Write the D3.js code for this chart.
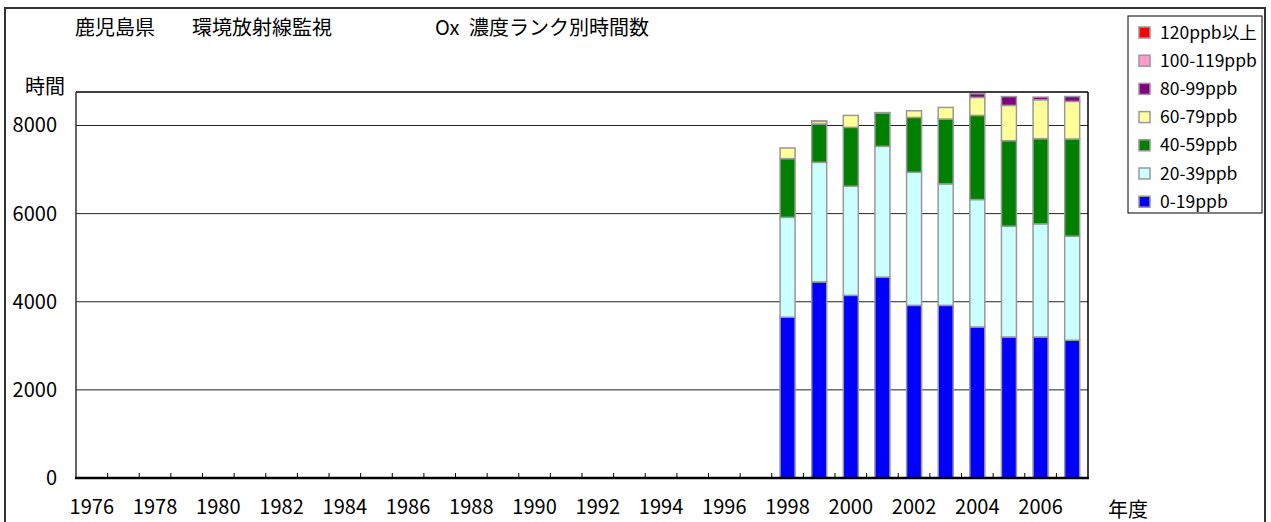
<!DOCTYPE html>
<html>
<head>
<meta charset="utf-8">
<script src="https://cdn.jsdelivr.net/npm/d3@7"></script>
<style>
  body { margin: 0; background: #fff; }
  svg { display: block; font-family: "Noto Sans CJK JP", "Noto Sans", sans-serif; }
</style>
</head>
<body>
<svg id="chart" width="1271" height="522"></svg>
<script>
// category axis (fiscal years)
const years = ["1976","1977","1978","1979","1980","1981","1982","1983","1984","1985",
    "1986","1987","1988","1989","1990","1991","1992","1993","1994","1995",
    "1996","1997","1998","1999","2000","2001","2002","2003","2004","2005","2006","2007"];
const tickYears = ["1976","1978","1980","1982","1984","1986","1988","1990","1992","1994",
    "1996","1998","2000","2002","2004","2006"];
const yTicks = [0, 2000, 4000, 6000, 8000];

// hours per concentration rank, only measured years
const dataYears = ["1998","1999","2000","2001","2002","2003","2004","2005","2006","2007"];
const r0_19    = [3650, 4450, 4145, 4560, 3918, 3918, 3427, 3200, 3200, 3126];
const r20_39   = [2265, 2714, 2476, 2967, 3020, 2757, 2892, 2515, 2568, 2362];
const r40_59   = [1333,  870, 1336,  756, 1245, 1472, 1910, 1941, 1933, 2206];
const r60_79   = [ 242,   60,  272,   10,  152,  263,  408,  800,  883,  853];
const r80_99   = [   0,   10,    0,    0,    0,    0,   83,  200,   60,  110];
const r100_119 = [   0,    0,    0,    0,    0,    0,    0,    0,    0,    0];
const r120     = [   0,    0,    0,    0,    0,    0,    0,    0,    0,    0];

const seriesNames = ["0-19ppb","20-39ppb","40-59ppb","60-79ppb","80-99ppb","100-119ppb","120ppb以上"];
const seriesColors = ["#0000ff","#ccffff","#008000","#ffff99","#800080","#ff99cc","#ff0000"];
const seriesValues = [r0_19, r20_39, r40_59, r60_79, r80_99, r100_119, r120];

const titleParts = ["鹿児島県", "環境放射線監視", "Ox", "濃度ランク別時間数"];

const svg = d3.select("#chart");
const plot = { left: 76, right: 1088, top: 92, bottom: 478 };

// outer frame
svg.append("rect")
    .attr("x", 5).attr("y", 8)
    .attr("width", 1260).attr("height", 540)
    .attr("fill", "#fff")
    .attr("stroke", "#333").attr("stroke-width", 2);

// title, pieces spaced like the original
const titleX = [75, 192, 435, 469];
svg.append("g")
    .selectAll("text")
    .data(titleParts)
    .enter()
    .append("text")
    .attr("x", (d, i) => titleX[i]).attr("y", 35)
    .attr("font-size", 20)
    .attr("fill", "#000")
    .text(d => d);

const x = d3.scaleBand().domain(years).range([plot.left, plot.right]);
const y = d3.scaleLinear().domain([0, 8760]).range([plot.bottom, plot.top]);

// gridlines
svg.append("g")
    .selectAll("line")
    .data(yTicks.filter(d => d > 0))
    .enter()
    .append("line")
    .attr("x1", plot.left).attr("x2", plot.right)
    .attr("y1", d => y(d)).attr("y2", d => y(d))
    .attr("stroke", "#222").attr("stroke-width", 1);

// table for stacking
const table = dataYears.map((yr, i) => {
    const row = { year: yr };
    seriesNames.forEach((n, j) => row[n] = seriesValues[j][i]);
    return row;
});
const stacked = d3.stack().keys(seriesNames)(table);

const barW = 15;
const layers = svg.append("g")
    .selectAll("g")
    .data(stacked)
    .enter()
    .append("g")
    .attr("fill", (d, i) => seriesColors[i]);

layers.selectAll("rect")
    .data(d => d.filter(p => p[1] - p[0] > 0))
    .enter()
    .append("rect")
    .attr("x", d => x(d.data.year) + x.bandwidth() / 2 - barW / 2)
    .attr("width", barW)
    .attr("y", d => y(d[1]))
    .attr("height", d => y(d[0]) - y(d[1]))
    .attr("stroke", "#999")
    .attr("stroke-width", 1.5);

// plot frame
svg.append("line")
    .attr("x1", plot.left).attr("x2", plot.right)
    .attr("y1", plot.top).attr("y2", plot.top)
    .attr("stroke", "#000").attr("stroke-width", 1.5);
svg.append("line")
    .attr("x1", plot.right).attr("x2", plot.right)
    .attr("y1", plot.top).attr("y2", plot.bottom)
    .attr("stroke", "#000").attr("stroke-width", 1.5);
svg.append("line")
    .attr("x1", plot.left).attr("x2", plot.left)
    .attr("y1", plot.top).attr("y2", plot.bottom)
    .attr("stroke", "#333").attr("stroke-width", 1.5);

// x axis with inward ticks at category boundaries
const xAxis = d3.axisBottom(x).tickValues(tickYears).tickSize(0).tickPadding(22);
const gx = svg.append("g")
    .attr("transform", `translate(0,${plot.bottom})`)
    .call(xAxis);
gx.select(".domain").remove();
gx.selectAll("text")
    .attr("font-size", 20)
    .attr("fill", "#000")
    .attr("font-family", "Noto Sans CJK JP");

svg.append("g")
    .selectAll("line")
    .data(years.slice(1))
    .enter()
    .append("line")
    .attr("x1", d => x(d)).attr("x2", d => x(d))
    .attr("y1", plot.bottom).attr("y2", plot.bottom - 5)
    .attr("stroke", "#000").attr("stroke-width", 1);

svg.append("line")
    .attr("x1", plot.left - 1).attr("x2", plot.right + 1)
    .attr("y1", plot.bottom).attr("y2", plot.bottom)
    .attr("stroke", "#000").attr("stroke-width", 2.5);

// y axis labels
const yAxis = d3.axisLeft(y).tickValues(yTicks).tickFormat(d3.format("d")).tickSize(0).tickPadding(19);
const gy = svg.append("g")
    .attr("transform", `translate(${plot.left},0)`)
    .call(yAxis);
gy.select(".domain").remove();
gy.selectAll("text")
    .attr("font-size", 20)
    .attr("fill", "#000")
    .attr("font-family", "Noto Sans CJK JP");

// axis titles
svg.append("text")
    .attr("x", 25).attr("y", 94)
    .attr("font-size", 20)
    .text("時間");
svg.append("text")
    .attr("x", 1108).attr("y", 517)
    .attr("font-size", 20)
    .text("年度");

// legend
const legend = svg.append("g");
legend.append("rect")
    .attr("x", 1128).attr("y", 16)
    .attr("width", 134).attr("height", 197)
    .attr("fill", "#fff")
    .attr("stroke", "#000").attr("stroke-width", 1);

const legendOrder = seriesNames.map((n, i) => i).reverse();
const li = legend.selectAll("g.item")
    .data(legendOrder)
    .enter()
    .append("g")
    .attr("class", "item")
    .attr("transform", (d, k) => `translate(1139,${32.5 + k * 28.2})`);
li.append("rect")
    .attr("x", 0).attr("y", -5.5)
    .attr("width", 11).attr("height", 11)
    .attr("fill", d => seriesColors[d])
    .attr("stroke", "#999").attr("stroke-width", 1.5);
li.append("text")
    .attr("x", 21).attr("y", 6)
    .attr("font-size", 17.5)
    .text(d => seriesNames[d]);
</script>
</body>
</html>
